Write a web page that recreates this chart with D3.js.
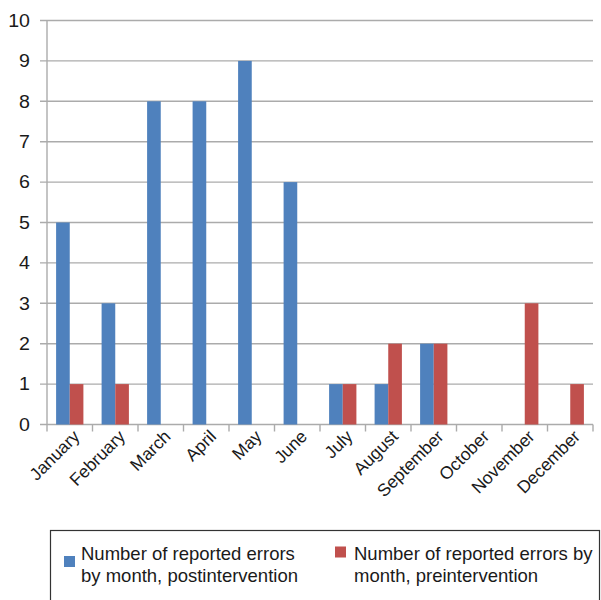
<!DOCTYPE html>
<html>
<head>
<meta charset="utf-8">
<script src="https://cdn.jsdelivr.net/npm/d3@7/dist/d3.min.js"></script>
<style>
  html, body { margin: 0; padding: 0; background: #fff; }
  svg { display: block; font-family: "Liberation Sans", Arial, sans-serif; }
</style>
</head>
<body>
<svg id="chart" width="601" height="600"></svg>
<script>
// Monthly error counts
const months = ["January", "February", "March", "April", "May", "June",
                "July", "August", "September", "October", "November", "December"];
const seriesNames = ["Number of reported errors by month, postintervention",
                     "Number of reported errors by month, preintervention"];
const postIntervention = [5, 3, 8, 8, 9, 6, 1, 1, 2, 0, 0, 0];
const preIntervention  = [1, 1, 0, 0, 0, 0, 1, 2, 2, 0, 3, 1];
const yTicks = [0, 1, 2, 3, 4, 5, 6, 7, 8, 9, 10];
const colors = ["#4F81BD", "#C0504D"];

const svg = d3.select("#chart");
const plotLeft = 47, plotRight = 593, plotTop = 20.5, plotBottom = 424.5;

const x = d3.scaleBand().domain(months).range([plotLeft, plotRight])
  .paddingInner(0.4).paddingOuter(0.2);
const xs = d3.scaleBand().domain([0, 1]).range([0, x.bandwidth()]);
const y = d3.scaleLinear().domain([0, 10]).range([plotBottom, plotTop]);
const step = x.step();

// horizontal gridlines
svg.append("g").selectAll("line").data(yTicks).join("line")
  .attr("x1", plotLeft - 7).attr("x2", plotRight)
  .attr("y1", d => y(d)).attr("y2", d => y(d))
  .attr("stroke", "#ababab").attr("stroke-width", 1.4);

// y axis line
svg.append("line").attr("x1", plotLeft).attr("x2", plotLeft)
  .attr("y1", y(10)).attr("y2", y(0))
  .attr("stroke", "#ababab").attr("stroke-width", 1.4);

// y tick labels
svg.append("g").selectAll("text").data(yTicks).join("text")
  .attr("transform", d => `translate(30,${y(d)}) scale(1.12,1)`)
  .attr("dy", "0.36em")
  .attr("text-anchor", "end").attr("font-size", 17.5).attr("fill", "#1a1a1a")
  .text(d => d);

// category tick marks on the x axis
const boundaries = months.map(m => x(m) - step * 0.2).concat([plotRight]);
svg.append("g").selectAll("line").data(boundaries).join("line")
  .attr("x1", d => d).attr("x2", d => d)
  .attr("y1", plotBottom).attr("y2", plotBottom + 7)
  .attr("stroke", "#ababab").attr("stroke-width", 1.4);

// bars
const seriesData = [postIntervention, preIntervention];
seriesData.forEach((vals, si) => {
  svg.append("g").selectAll("rect").data(vals.map((v, i) => ({ m: months[i], v })))
    .join("rect")
    .attr("x", d => x(d.m) + xs(si))
    .attr("width", xs.bandwidth())
    .attr("y", d => y(d.v))
    .attr("height", d => y(0) - y(d.v))
    .attr("fill", colors[si]);
});

// rotated month labels
svg.append("g").selectAll("text").data(months).join("text")
  .attr("transform", d => `translate(${x(d) + x.bandwidth() / 2 + 11},${plotBottom + 13}) rotate(-45)`)
  .attr("text-anchor", "end").attr("font-size", 17.5).attr("fill", "#1a1a1a")
  .text(d => d);

// legend
const lg = svg.append("g");
lg.append("rect").attr("x", 50.5).attr("y", 530.5).attr("width", 549).attr("height", 100)
  .attr("fill", "none").attr("stroke", "#333").attr("stroke-width", 1.2);
const legendItems = [
  { sx: 64, sy: 556, tx: 81, lines: ["Number of reported errors", "by month, postintervention"] },
  { sx: 335, sy: 546.5, tx: 354, lines: ["Number of reported errors by", "month, preintervention"] }
];
legendItems.forEach((it, i) => {
  lg.append("rect").attr("x", it.sx).attr("y", it.sy).attr("width", 11).attr("height", 11)
    .attr("fill", colors[i]);
  it.lines.forEach((t, j) => {
    lg.append("text").attr("x", it.tx).attr("y", 560 + j * 22)
      .attr("font-size", 18.5).attr("fill", "#1a1a1a").text(t);
  });
});
</script>
</body>
</html>
